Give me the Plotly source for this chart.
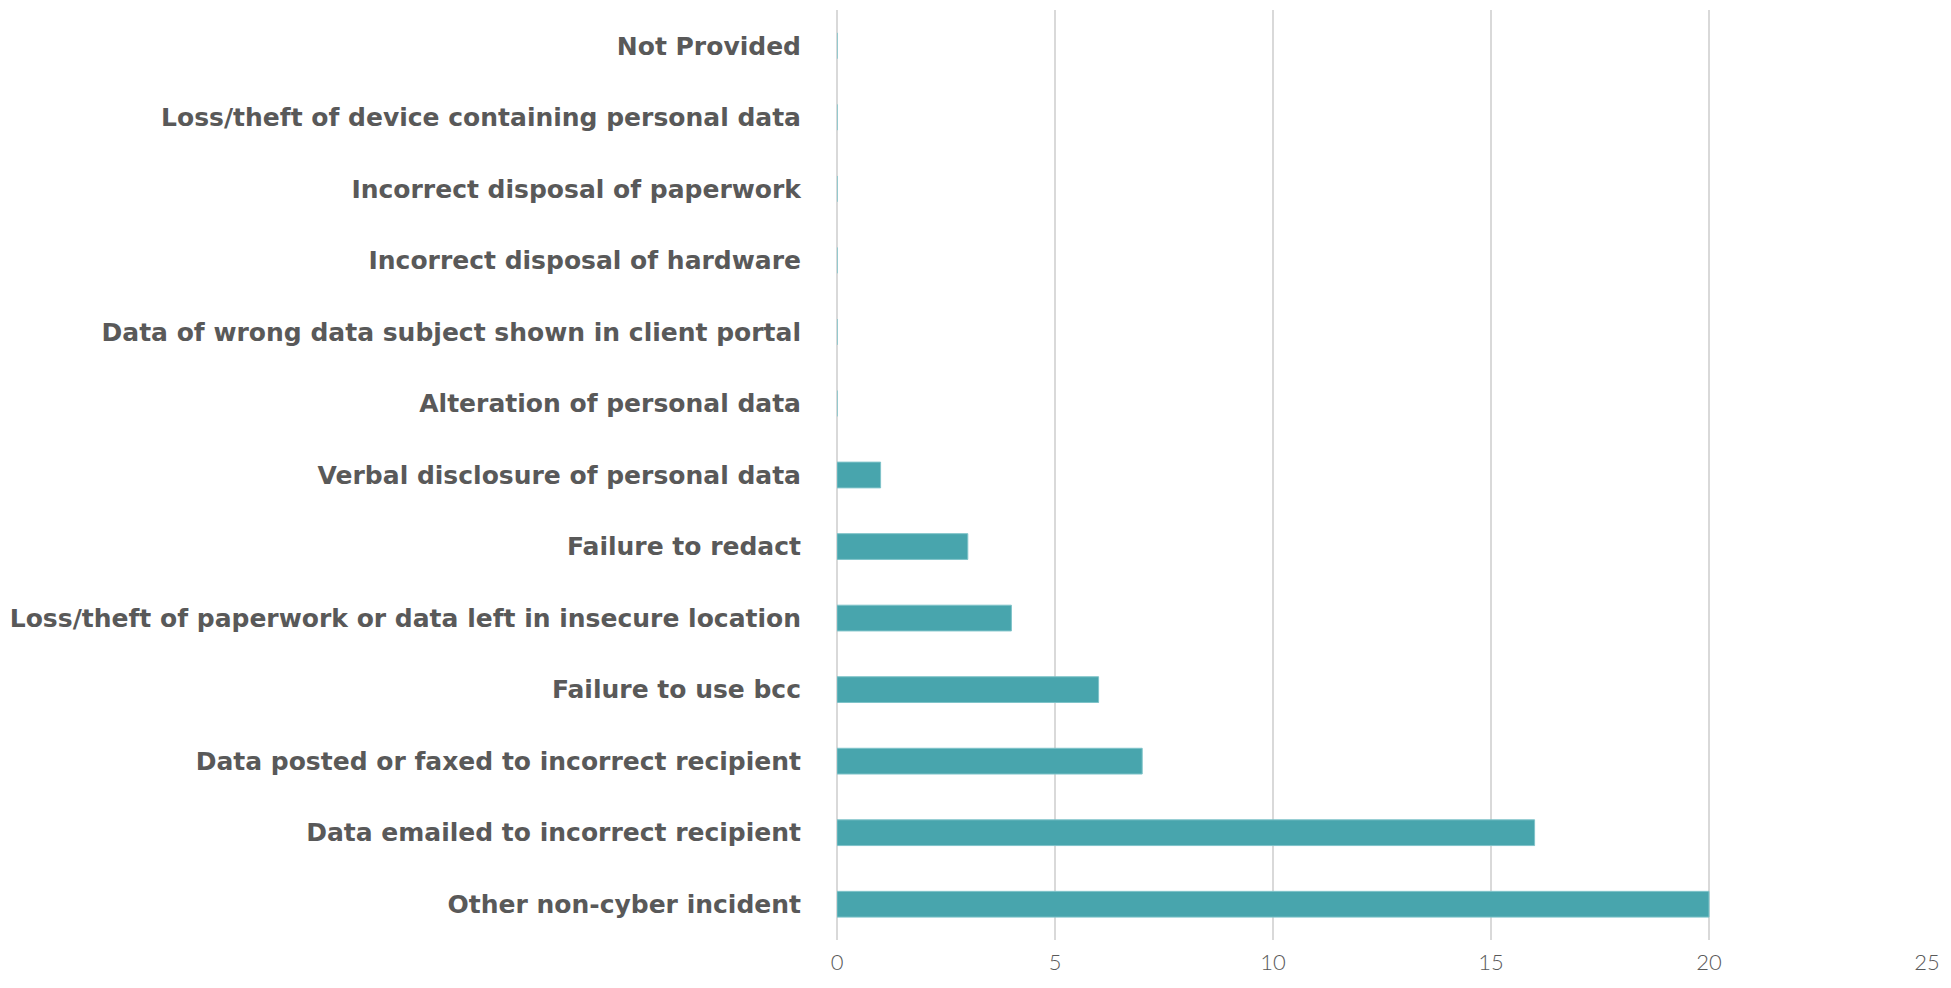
import plotly.graph_objects as go

categories = [
    "Other non-cyber incident",
    "Data emailed to incorrect recipient",
    "Data posted or faxed to incorrect recipient",
    "Failure to use bcc",
    "Loss/theft of paperwork or data left in insecure location",
    "Failure to redact",
    "Verbal disclosure of personal data",
    "Alteration of personal data",
    "Data of wrong data subject shown in client portal",
    "Incorrect disposal of hardware",
    "Incorrect disposal of paperwork",
    "Loss/theft of device containing personal data",
    "Not Provided",
]
values = [20, 16, 7, 6, 4, 3, 1, 0, 0, 0, 0, 0, 0]
x_ticks = [0, 5, 10, 15, 20, 25]

fig = go.Figure(go.Bar(
    x=values, y=categories, orientation="h",
    marker=dict(color="#48A5AD", line=dict(color="#7FC3C9", width=1)),
    width=0.36,
))

fig.update_layout(
    width=1935, height=972,
    margin=dict(l=829, r=16, t=2, b=40),
    plot_bgcolor="white", paper_bgcolor="white",
    showlegend=False,
)
fig.update_xaxes(
    range=[0, 25], tickvals=x_ticks, showgrid=True, gridcolor="#D9D9D9", gridwidth=1.5,
    zeroline=True, zerolinecolor="#D9D9D9", zerolinewidth=1.5, automargin=False,
    showline=False, ticks="outside", ticklen=3, tickcolor="rgba(0,0,0,0)",
    tickfont=dict(family="Lato", size=22, color="#595959", weight=300),
)
fig.update_yaxes(
    categoryorder="array", categoryarray=categories, automargin=False,
    showgrid=False, showline=False, ticks="outside", ticklen=30, tickcolor="rgba(0,0,0,0)",
    tickfont=dict(family="DejaVu Sans", size=25, color="#595959", weight=700),
)
fig.write_html("out.html")
